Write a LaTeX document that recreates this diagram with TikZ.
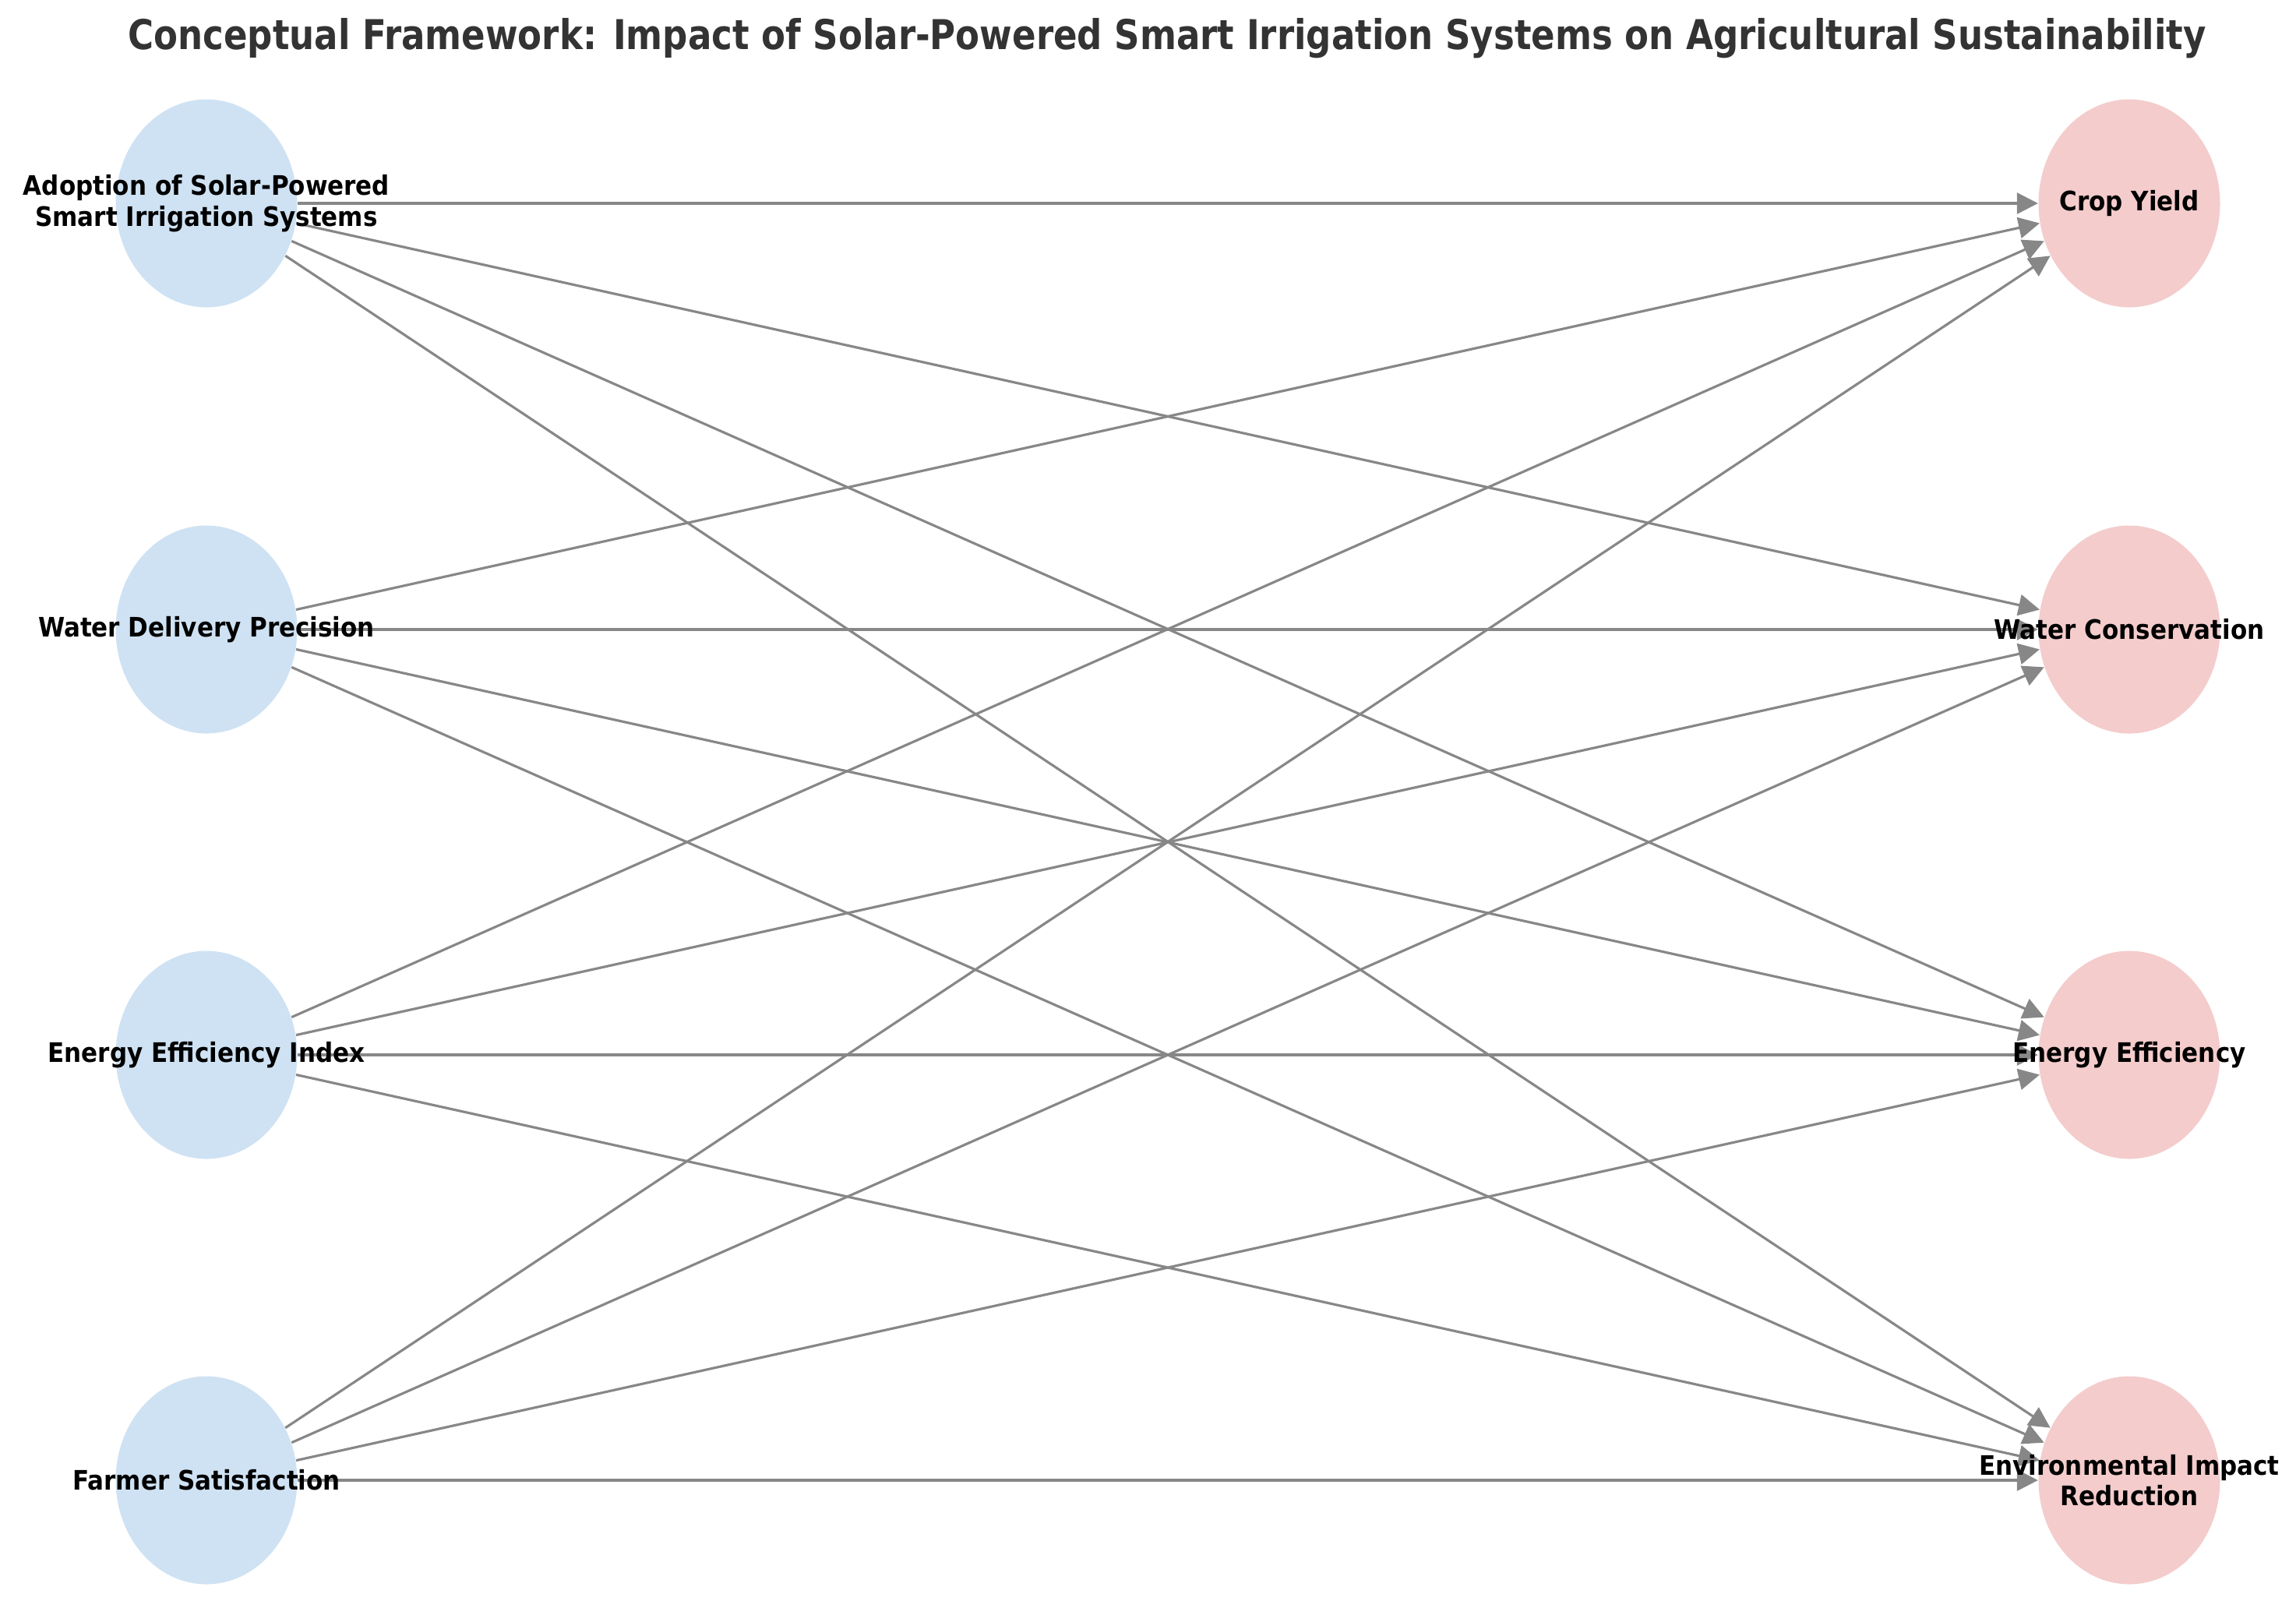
\documentclass[tikz,border=0pt]{standalone}
\usepackage{fontspec}
\setmainfont{DejaVu Sans}
\usetikzlibrary{arrows.meta, shapes.geometric}

\definecolor{causeblue}{HTML}{CFE2F3}
\definecolor{effectpink}{HTML}{F4CCCC}
\definecolor{linkgray}{HTML}{878787}
\definecolor{titlegray}{HTML}{333333}

\begin{document}
\begin{tikzpicture}[
    cause/.style={ellipse, fill=causeblue, draw=none, minimum width=2.33cm, minimum height=2.67cm, inner sep=0pt},
    effect/.style={ellipse, fill=effectpink, draw=none, minimum width=2.33cm, minimum height=2.67cm, inner sep=0pt},
    lbl/.style={align=center, inner sep=0pt, xscale=0.9, font=\fontsize{9.8}{11.2}\selectfont\bfseries},
    link/.style={draw=linkgray, line width=0.9pt, -{Triangle[length=0.27cm, width=0.27cm]}}
]
    % Canvas
    \useasboundingbox (0,0) rectangle (29.47,-20.54);
    % Title
    \node[titlegray, xscale=0.855, font=\fontsize{15}{18}\selectfont\bfseries] (title) at (14.98,-0.49)
        {Conceptual Framework: Impact of Solar-Powered Smart Irrigation Systems on Agricultural Sustainability};

    % Independent variables
    \node[cause] (adopt) at (2.65,-2.61) {};
    \node[cause] (water) at (2.65,-8.08) {};
    \node[cause] (energy) at (2.65,-13.54) {};
    \node[cause] (farmer) at (2.65,-19.00) {};

    % Outcomes
    \node[effect] (crop) at (27.33,-2.61) {};
    \node[effect] (cons) at (27.33,-8.08) {};
    \node[effect] (eff) at (27.33,-13.54) {};
    \node[effect] (env) at (27.33,-19.00) {};

    % Links
    \foreach \a in {adopt,water,energy,farmer}
    {
        \foreach \b in {crop,cons,eff,env}
        {
            \draw[link] (\a) -- (\b);
        }
    }

    % Labels
    \node[lbl] (adoptlbl) at (adopt) {Adoption of Solar-Powered\\Smart Irrigation Systems};
    \node[lbl] (waterlbl) at (water) {Water Delivery Precision};
    \node[lbl] (energylbl) at (energy) {Energy Efficiency Index};
    \node[lbl] (farmerlbl) at (farmer) {Farmer Satisfaction};
    \node[lbl] (croplbl) at (crop) {Crop Yield};
    \node[lbl] (conslbl) at (cons) {Water Conservation};
    \node[lbl] (efflbl) at (eff) {Energy Efficiency};
    \node[lbl] (envlbl) at (env) {Environmental Impact\\Reduction};
\end{tikzpicture}
\end{document}
